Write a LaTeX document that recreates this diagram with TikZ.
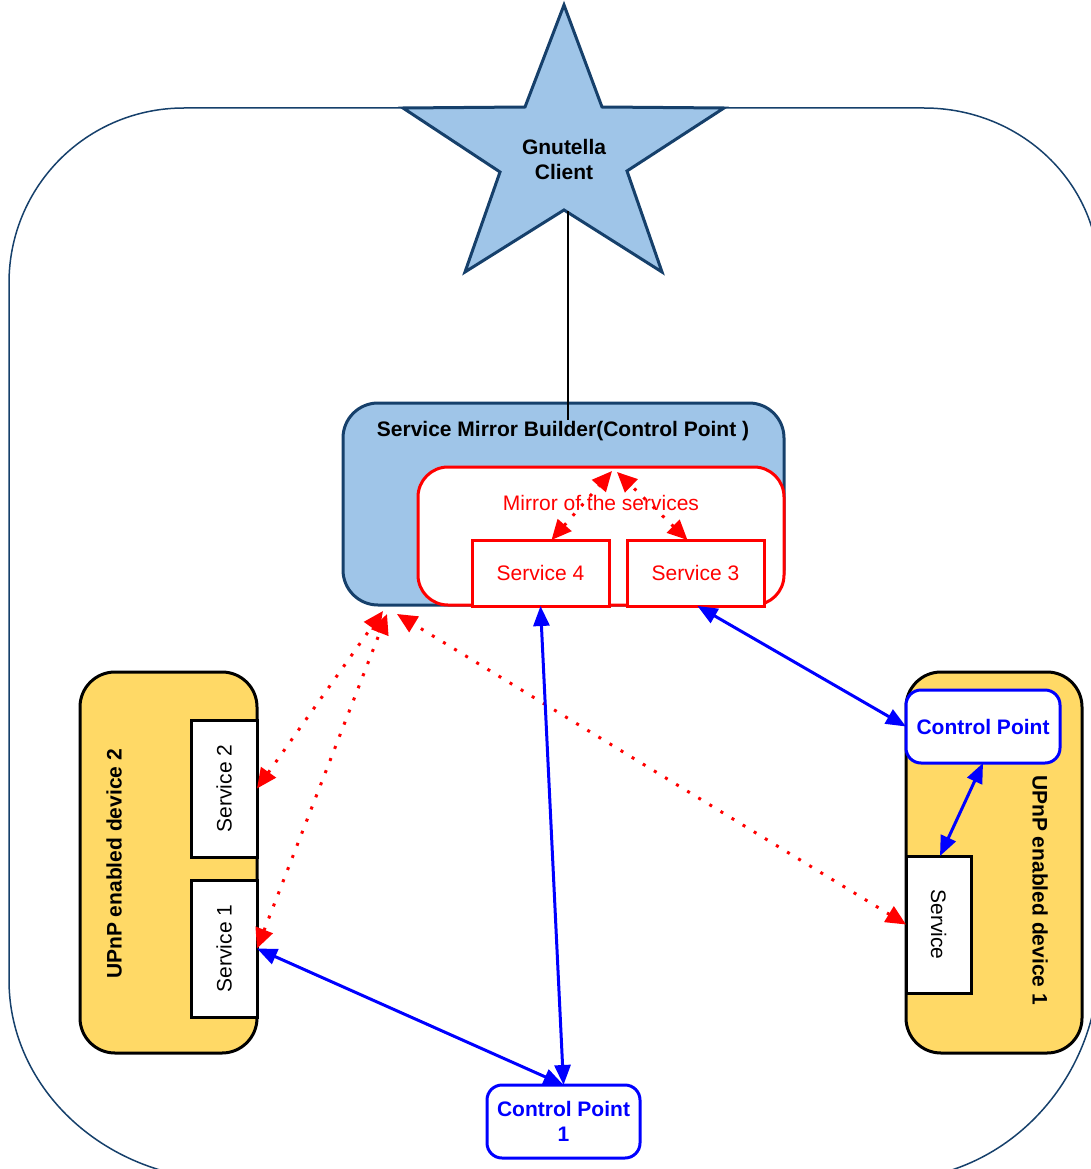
\documentclass[tikz,border=0pt]{standalone}
\usepackage{fontspec}
\setmainfont{Liberation Sans}
\usetikzlibrary{arrows.meta}

\definecolor{skyfill}{HTML}{9FC5E8}
\definecolor{navyline}{HTML}{16406B}
\definecolor{devyellow}{HTML}{FFD966}
\definecolor{pureblue}{HTML}{0000FF}
\definecolor{purered}{HTML}{FF0000}

\newcommand{\diagfont}{\fontsize{21}{25}\selectfont}

\begin{document}
\begin{tikzpicture}[x=1pt,y=-1pt,
  every node/.style={font=\diagfont, inner sep=0pt, outer sep=0pt},
  framestyle/.style={draw=navyline, line width=1.5pt},
  skybox/.style={draw=navyline, fill=skyfill, line width=3pt},
  redbox/.style={draw=purered, fill=white, line width=3pt},
  redtext/.style={text=purered},
  devbox/.style={draw=black, fill=devyellow, line width=3pt, rounded corners=35pt},
  svcbox/.style={draw=black, fill=white, line width=3pt},
  cpbox/.style={draw=pureblue, fill=white, line width=3pt, rounded corners=15pt,
                text=pureblue, font=\diagfont\bfseries, align=center},
  bluearrow/.style={draw=pureblue, line width=3pt,
                arrows={Triangle[length=20pt,width=16pt]-Triangle[length=20pt,width=16pt]}},
  reddots/.style={draw=purered, line width=3pt, dash pattern=on 3pt off 10pt,
                arrows={Triangle[length=20pt,width=18pt]-Triangle[length=20pt,width=18pt]}}
]
\useasboundingbox (0,0) rectangle (1091,1169);

% outer network frame
\begin{scope}
  \clip (0,0) rectangle (1091,1169);
  \draw[framestyle] (184,108) -- (924,108)
    .. controls (1021,108) and (1099,183) .. (1099,275)
    -- (1099,960)
    .. controls (1099,1081) and (1005,1180) .. (889,1180)
    -- (229,1180)
    .. controls (107,1180) and (9,1090) .. (9,980)
    -- (9,283)
    .. controls (9,186) and (87,108) .. cycle;
\end{scope}

% Gnutella client star
\draw[skybox, line join=miter] (564,5) -- (602,107) -- (724,108) -- (627,171)
  -- (662,272) -- (564,210) -- (465,272) -- (500,172) -- (403,108)
  -- (525,107) -- cycle;
\node[font=\diagfont\bfseries, align=center] (gnutella) at (564,159) {Gnutella\\Client};
\coordinate (starfoot) at (568,211);

% service mirror builder
\node[skybox, rounded corners=35pt, minimum width=441pt, minimum height=202pt] (smb) at (563.5,504) {};
\node[font=\diagfont\bfseries] (smbtitle) at (563,431) {Service Mirror Builder(Control Point )};
\coordinate (smbtap) at (568,420);
\draw[black, line width=1.2pt] (starfoot) -- (smbtap);

\node[redbox, rounded corners=30pt, minimum width=366pt, minimum height=138pt] (mirror) at (601,536) {};
\node[redtext] (mirrortitle) at (601,503) {Mirror of the services};
\node[redbox, redtext, minimum width=137pt, minimum height=66pt] (svc4) at (540.5,573) {Service 4};
\node[redbox, redtext, minimum width=137pt, minimum height=66pt] (svc3) at (695.5,573) {Service 3};

% UPnP device 2
\node[devbox, minimum width=177pt, minimum height=381pt] (dev2) at (168.5,862.5) {};
\node[font=\diagfont\bfseries, rotate=90] (dev2label) at (114,864) {UPnP enabled device 2};
\node[svcbox, minimum width=66pt, minimum height=137pt] (svc2) at (224,788.5) {};
\node[rotate=90] (svc2label) at (224,788.5) {Service 2};
\node[svcbox, minimum width=66pt, minimum height=137pt] (svc1) at (224,948.5) {};
\node[rotate=90] (svc1label) at (224,948.5) {Service 1};

% UPnP device 1
\node[devbox, minimum width=176pt, minimum height=381pt] (dev1) at (994,862.5) {};
\node[font=\diagfont\bfseries, rotate=-90] (dev1label) at (1040,890) {UPnP enabled device 1};
\node[cpbox, minimum width=154pt, minimum height=73pt] (cpR) at (983,726.5) {Control Point};
\node[svcbox, minimum width=65pt, minimum height=137pt] (svcR) at (938.5,924.5) {};
\node[rotate=-90] (svcRlabel) at (938.5,924.5) {Service};

% control point 1
\node[cpbox, minimum width=153pt, minimum height=73pt] (cp1) at (563.5,1121.5) {Control Point\\1};

% mirrored service links
\coordinate (mtopL) at (612,471);
\coordinate (mtopR) at (617,472);
\draw[reddots] ([xshift=11pt]svc4.north) -- (mtopL);
\draw[reddots] ([xshift=-8pt]svc3.north) -- (mtopR);

\coordinate (smbA) at (383,611);
\coordinate (smbB) at (387,614);
\coordinate (smbC) at (397,614);
\draw[reddots] (svc2.east) -- (smbA);
\draw[reddots] (svc1.east) -- (smbB);
\draw[reddots] (svcR.west) -- (smbC);

% control links
\draw[bluearrow] (svc4.south) -- (cp1.north);
\draw[bluearrow] (svc1.east) -- (cp1.north);
\draw[bluearrow] ([xshift=2pt]svc3.south) -- (cpR.west);
\draw[bluearrow] (cpR.south) -- ([xshift=1.5pt]svcR.north);
\end{tikzpicture}
\end{document}
